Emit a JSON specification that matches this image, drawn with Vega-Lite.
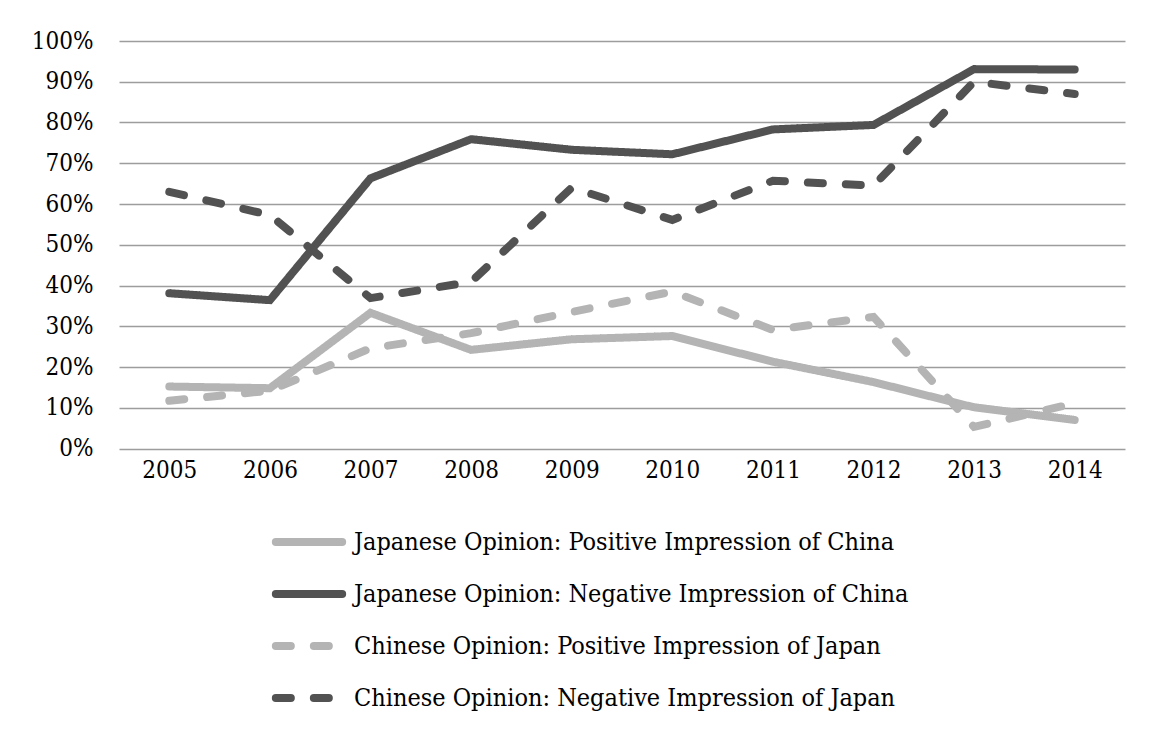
{
  "$schema": "https://vega.github.io/schema/vega-lite/v6.json",
  "autosize": {"type": "none"},
  "width": 1006,
  "height": 407.5,
  "padding": {"left": 119, "top": 41, "right": 30, "bottom": 289},
  "background": "white",
  "data": {
    "values": [
      {"year": "2005", "series": "Japanese Opinion: Positive Impression of China", "value": 0.152},
      {"year": "2006", "series": "Japanese Opinion: Positive Impression of China", "value": 0.148},
      {"year": "2007", "series": "Japanese Opinion: Positive Impression of China", "value": 0.333},
      {"year": "2008", "series": "Japanese Opinion: Positive Impression of China", "value": 0.242},
      {"year": "2009", "series": "Japanese Opinion: Positive Impression of China", "value": 0.268},
      {"year": "2010", "series": "Japanese Opinion: Positive Impression of China", "value": 0.276},
      {"year": "2011", "series": "Japanese Opinion: Positive Impression of China", "value": 0.213},
      {"year": "2012", "series": "Japanese Opinion: Positive Impression of China", "value": 0.163},
      {"year": "2013", "series": "Japanese Opinion: Positive Impression of China", "value": 0.101},
      {"year": "2014", "series": "Japanese Opinion: Positive Impression of China", "value": 0.070},
      {"year": "2005", "series": "Japanese Opinion: Negative Impression of China", "value": 0.381},
      {"year": "2006", "series": "Japanese Opinion: Negative Impression of China", "value": 0.364},
      {"year": "2007", "series": "Japanese Opinion: Negative Impression of China", "value": 0.663},
      {"year": "2008", "series": "Japanese Opinion: Negative Impression of China", "value": 0.759},
      {"year": "2009", "series": "Japanese Opinion: Negative Impression of China", "value": 0.733},
      {"year": "2010", "series": "Japanese Opinion: Negative Impression of China", "value": 0.722},
      {"year": "2011", "series": "Japanese Opinion: Negative Impression of China", "value": 0.783},
      {"year": "2012", "series": "Japanese Opinion: Negative Impression of China", "value": 0.794},
      {"year": "2013", "series": "Japanese Opinion: Negative Impression of China", "value": 0.931},
      {"year": "2014", "series": "Japanese Opinion: Negative Impression of China", "value": 0.930},
      {"year": "2005", "series": "Chinese Opinion: Positive Impression of Japan", "value": 0.117},
      {"year": "2006", "series": "Chinese Opinion: Positive Impression of Japan", "value": 0.142},
      {"year": "2007", "series": "Chinese Opinion: Positive Impression of Japan", "value": 0.246},
      {"year": "2008", "series": "Chinese Opinion: Positive Impression of Japan", "value": 0.283},
      {"year": "2009", "series": "Chinese Opinion: Positive Impression of Japan", "value": 0.335},
      {"year": "2010", "series": "Chinese Opinion: Positive Impression of Japan", "value": 0.385},
      {"year": "2011", "series": "Chinese Opinion: Positive Impression of Japan", "value": 0.291},
      {"year": "2012", "series": "Chinese Opinion: Positive Impression of Japan", "value": 0.323},
      {"year": "2013", "series": "Chinese Opinion: Positive Impression of Japan", "value": 0.053},
      {"year": "2014", "series": "Chinese Opinion: Positive Impression of Japan", "value": 0.111},
      {"year": "2005", "series": "Chinese Opinion: Negative Impression of Japan", "value": 0.630},
      {"year": "2006", "series": "Chinese Opinion: Negative Impression of Japan", "value": 0.573},
      {"year": "2007", "series": "Chinese Opinion: Negative Impression of Japan", "value": 0.369},
      {"year": "2008", "series": "Chinese Opinion: Negative Impression of Japan", "value": 0.409},
      {"year": "2009", "series": "Chinese Opinion: Negative Impression of Japan", "value": 0.640},
      {"year": "2010", "series": "Chinese Opinion: Negative Impression of Japan", "value": 0.561},
      {"year": "2011", "series": "Chinese Opinion: Negative Impression of Japan", "value": 0.657},
      {"year": "2012", "series": "Chinese Opinion: Negative Impression of Japan", "value": 0.645},
      {"year": "2013", "series": "Chinese Opinion: Negative Impression of Japan", "value": 0.900},
      {"year": "2014", "series": "Chinese Opinion: Negative Impression of Japan", "value": 0.870}
    ]
  },
  "mark": {"type": "line", "strokeWidth": 8, "strokeCap": "round"},
  "encoding": {
    "x": {
      "field": "year",
      "type": "ordinal",
      "scale": {"type": "point", "padding": 0.5},
      "axis": {
        "title": null,
        "labelAngle": 0,
        "domain": false,
        "ticks": false,
        "grid": false,
        "labelPadding": 10,
        "labelFont": "DejaVu Serif Condensed",
        "labelFontSize": 24,
        "labelColor": "#000000"
      }
    },
    "y": {
      "field": "value",
      "type": "quantitative",
      "scale": {"domain": [0, 1], "nice": false, "zero": true},
      "axis": {
        "title": null,
        "values": [0, 0.1, 0.2, 0.3, 0.4, 0.5, 0.6, 0.7, 0.8, 0.9, 1],
        "format": ".0%",
        "domain": false,
        "ticks": false,
        "grid": true,
        "gridColor": "#9d9d9d",
        "gridWidth": 1.3,
        "gridOpacity": 1,
        "labelPadding": 26,
        "labelFont": "DejaVu Serif Condensed",
        "labelFontSize": 24,
        "labelColor": "#000000"
      }
    },
    "color": {
      "field": "series",
      "type": "nominal",
      "scale": {
        "domain": [
          "Japanese Opinion: Positive Impression of China",
          "Japanese Opinion: Negative Impression of China",
          "Chinese Opinion: Positive Impression of Japan",
          "Chinese Opinion: Negative Impression of Japan"
        ],
        "range": ["#b4b4b4", "#525252", "#b4b4b4", "#525252"]
      },
      "legend": {
        "title": null,
        "orient": "none",
        "legendX": 169,
        "legendY": 480,
        "direction": "vertical",
        "symbolType": "M-2,0H2",
        "symbolSize": 1100,
        "symbolStrokeWidth": 8,
        "labelFont": "DejaVu Serif Condensed",
        "labelFontSize": 25,
        "labelColor": "#000000",
        "labelLimit": 800,
        "labelOffset": 24,
        "rowPadding": 15,
        "encode": {
          "symbols": {"update": {"strokeCap": {"value": "round"}}}
        }
      }
    },
    "strokeDash": {
      "field": "series",
      "type": "nominal",
      "scale": {
        "domain": [
          "Japanese Opinion: Positive Impression of China",
          "Japanese Opinion: Negative Impression of China",
          "Chinese Opinion: Positive Impression of Japan",
          "Chinese Opinion: Negative Impression of Japan"
        ],
        "range": [[1, 0], [1, 0], [15, 23], [15, 23]]
      },
      "legend": null
    }
  },
  "config": {"view": {"stroke": null}}
}
